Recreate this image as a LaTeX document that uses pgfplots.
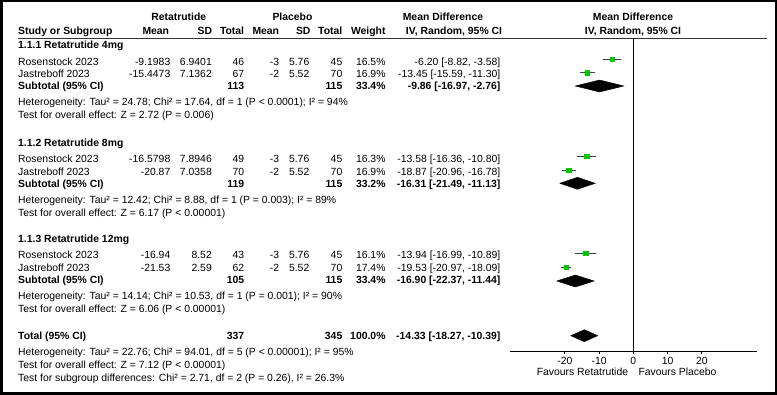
\documentclass[border=0pt]{standalone}
\usepackage{fontspec}
\setmainfont{Liberation Sans}
\usepackage{pgfplots}
\pgfplotsset{compat=1.18}
\definecolor{mkgreen}{RGB}{0,200,0}
\newcommand{\fs}{\fontsize{10.4}{12}\selectfont}
\newcommand{\srow}[9]{%
 \node[L] at (18,-#1) {#2};
 \node[R] at (170.5,-#1) {#3};
 \node[R] at (212,-#1) {#4};
 \node[R] at (244.3,-#1) {#5};
 \node[R] at (279.3,-#1) {#6};
 \node[R] at (309.5,-#1) {#7};
 \node[R] at (342.5,-#1) {#8};
 \node[R] at (385.7,-#1) {#9};}
\newcommand{\subrow}[6]{%
 \node[L] at (18,-#1) {\bfseries #2};
 \node[R] at (244.3,-#1) {\bfseries #3};
 \node[R] at (342.5,-#1) {\bfseries #4};
 \node[R] at (385.7,-#1) {\bfseries #5};
 \node[R] at (500.5,-#1) {\bfseries #6};}
\begin{document}
\fs
\begin{tikzpicture}[x=1pt,y=1pt, font=\fs,
  L/.style={anchor=base west, inner sep=0pt},
  R/.style={anchor=base east, inner sep=0pt},
  C/.style={anchor=base, inner sep=0pt}]
\useasboundingbox (0,0) rectangle (777,-395);
\draw[line width=2.5pt] (1.25,-1.25) rectangle (775.75,-393.75);
% headers
\node[C] at (178.7,-21) {\bfseries Retatrutide};
\node[C] at (292.5,-21) {\bfseries Placebo};
\node[C] at (443,-21) {\bfseries Mean Difference};
\node[C] at (633,-21) {\bfseries Mean Difference};
\node[L] at (18,-35) {\bfseries Study or Subgroup};
\node[R] at (169.3,-35) {\bfseries Mean};
\node[R] at (212.3,-35) {\bfseries SD};
\node[R] at (244.3,-35) {\bfseries Total};
\node[R] at (279.3,-35) {\bfseries Mean};
\node[R] at (310.7,-35) {\bfseries SD};
\node[R] at (342.5,-35) {\bfseries Total};
\node[R] at (385.7,-35) {\bfseries Weight};
\node[C] at (454,-35) {\bfseries IV, Random, 95\% CI};
\node[C] at (633,-35) {\bfseries IV, Random, 95\% CI};
\draw[line width=1pt, black!80] (18,-38.5) -- (767,-38.5);
% group 1
\node[L] at (18,-49) {\bfseries 1.1.1 Retatrutide 4mg};
\srow{65.5}{Rosenstock 2023}{-9.1983}{6.9401}{46}{-3}{5.76}{45}{16.5\%}
\node[R] at (500.5,-65.5) {-6.20 [-8.82, -3.58]};
\srow{78}{Jastreboff 2023}{-15.4473}{7.1362}{67}{-2}{5.52}{70}{16.9\%}
\node[R] at (500.5,-78) {-13.45 [-15.59, -11.30]};
\subrow{89.5}{Subtotal (95\% CI)}{113}{115}{33.4\%}{-9.86 [-16.97, -2.76]}
\node[L] at (18,-105.7) {Heterogeneity: Tau² = 24.78; Chi² = 17.64, df = 1 (P < 0.0001); I² = 94\%};
\node[L] at (18,-119) {Test for overall effect: Z = 2.72 (P = 0.006)};
% group 2
\node[L] at (18,-146.6) {\bfseries 1.1.2 Retatrutide 8mg};
\srow{162.5}{Rosenstock 2023}{-16.5798}{7.8946}{49}{-3}{5.76}{45}{16.3\%}
\node[R] at (500.5,-162.5) {-13.58 [-16.36, -10.80]};
\srow{175.4}{Jastreboff 2023}{-20.87}{7.0358}{70}{-2}{5.52}{70}{16.9\%}
\node[R] at (500.5,-175.4) {-18.87 [-20.96, -16.78]};
\subrow{187.2}{Subtotal (95\% CI)}{119}{115}{33.2\%}{-16.31 [-21.49, -11.13]}
\node[L] at (18,-203.8) {Heterogeneity: Tau² = 12.42; Chi² = 8.88, df = 1 (P = 0.003); I² = 89\%};
\node[L] at (18,-217) {Test for overall effect: Z = 6.17 (P < 0.00001)};
% group 3
\node[L] at (18,-242.6) {\bfseries 1.1.3 Retatrutide 12mg};
\srow{258.8}{Rosenstock 2023}{-16.94}{8.52}{43}{-3}{5.76}{45}{16.1\%}
\node[R] at (500.5,-258.8) {-13.94 [-16.99, -10.89]};
\srow{271.7}{Jastreboff 2023}{-21.53}{2.59}{62}{-2}{5.52}{70}{17.4\%}
\node[R] at (500.5,-271.7) {-19.53 [-20.97, -18.09]};
\subrow{283.2}{Subtotal (95\% CI)}{105}{115}{33.4\%}{-16.90 [-22.37, -11.44]}
\node[L] at (18,-299.3) {Heterogeneity: Tau² = 14.14; Chi² = 10.53, df = 1 (P = 0.001); I² = 90\%};
\node[L] at (18,-312.3) {Test for overall effect: Z = 6.06 (P < 0.00001)};
% total
\subrow{339.5}{Total (95\% CI)}{337}{345}{100.0\%}{-14.33 [-18.27, -10.39]}
\node[L] at (18,-355.5) {Heterogeneity: Tau² = 22.76; Chi² = 94.01, df = 5 (P < 0.00001); I² = 95\%};
\node[L] at (18,-368.5) {Test for overall effect: Z = 7.12 (P < 0.00001)};
\node[L] at (18,-382) {Test for subgroup differences: Chi² = 2.71, df = 2 (P = 0.26), I² = 26.3\%};
% favours
\node[R] at (628.3,-375.5) {Favours Retatrutide};
\node[L] at (638.3,-375.5) {Favours Placebo};
\begin{axis}[at={(510pt,-351pt)}, anchor=south west, scale only axis,
  width=247pt, height=313pt, xmin=-36, xmax=36.1, ymin=-351, ymax=-38,
  axis x line=bottom, axis y line=none,
  axis line style={-, line width=0.7pt, black},
  xtick={-20,-10,0,10,20}, tick align=outside, major tick length=3.5pt,
  tick style={line width=0.7pt, black},
  xticklabel style={font=\fs, inner sep=1pt, yshift=-1.5pt},
  /pgf/number format/assume math mode=true, clip=false]
\addplot[black, line width=0.8pt] coordinates {(0,-38.5)(0,-351)};
% CI lines
\addplot[black!75, line width=0.9pt] coordinates {(-8.82,-59)(-3.58,-59)};
\addplot[black!75, line width=0.9pt] coordinates {(-15.59,-72.7)(-11.30,-72.7)};
\addplot[black!75, line width=0.9pt] coordinates {(-16.36,-156)(-10.80,-156)};
\addplot[black!75, line width=0.9pt] coordinates {(-20.96,-170)(-16.78,-170)};
\addplot[black!75, line width=0.9pt] coordinates {(-16.99,-253.3)(-10.89,-253.3)};
\addplot[black!75, line width=0.9pt] coordinates {(-20.97,-267.3)(-18.09,-267.3)};
% study estimates
\addplot[only marks, mark=square*, mark size=2.25pt, mkgreen] coordinates {
 (-6.20,-59) (-13.45,-72.7) (-13.58,-156) (-18.87,-170) (-13.94,-253.3) (-19.53,-267.3)};
% pooled diamonds
\addplot[fill=black, draw=black] coordinates {(-16.97,-86)(-9.86,-80)(-2.76,-86)(-9.86,-92)(-16.97,-86)};
\addplot[fill=black, draw=black] coordinates {(-21.49,-183.3)(-16.31,-177.3)(-11.13,-183.3)(-16.31,-189.3)(-21.49,-183.3)};
\addplot[fill=black, draw=black] coordinates {(-22.37,-281)(-16.90,-275)(-11.44,-281)(-16.90,-287)(-22.37,-281)};
\addplot[fill=black, draw=black] coordinates {(-18.27,-335.7)(-14.33,-329.7)(-10.39,-335.7)(-14.33,-341.7)(-18.27,-335.7)};
\end{axis}
\end{tikzpicture}
\end{document}
